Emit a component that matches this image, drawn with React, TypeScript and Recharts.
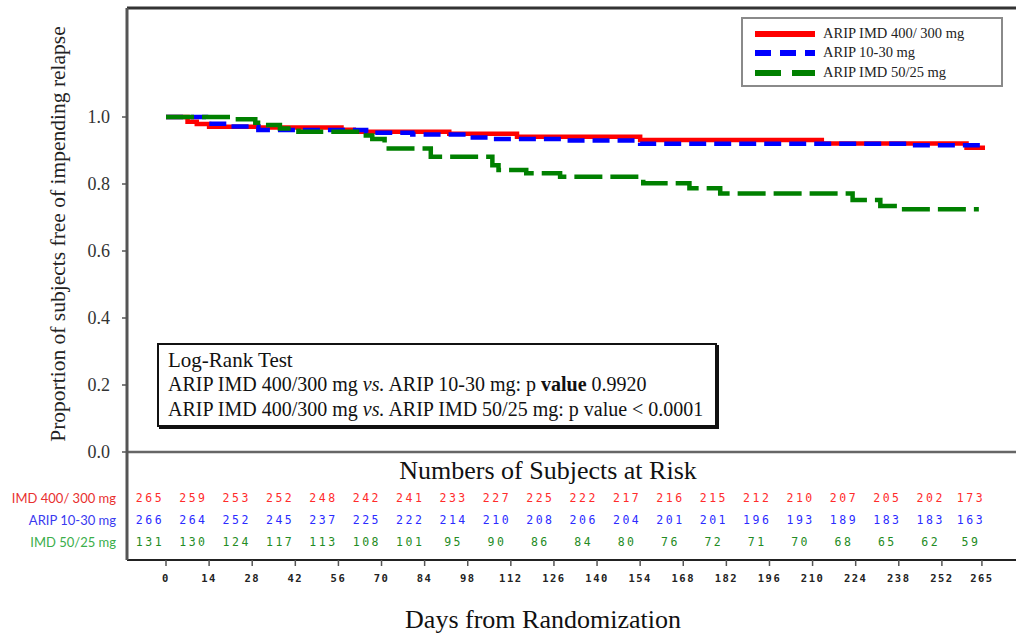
import React from "react";
import { ComposedChart, Legend, Line, ReferenceLine, Scatter, XAxis, YAxis } from "recharts";

// x axis ticks (days) and the matching at-risk columns
const DAY_TICKS = [0, 14, 28, 42, 56, 70, 84, 98, 112, 126, 140, 154, 168, 182, 196, 210, 224, 238, 252, 265];
const Y_TICKS = [0, 0.2, 0.4, 0.6, 0.8, 1.0];

// Kaplan-Meier step points (day where the step starts, survival)
const IMD400_DAYS = [0, 7, 10, 14, 30, 57, 61, 92, 114, 154, 213, 260, 267];
const IMD400_SURV = [1.0, 0.986, 0.979, 0.971, 0.969, 0.962, 0.956, 0.95, 0.941, 0.931, 0.921, 0.908, 0.908];

const ARIP1030_DAYS = [0, 13, 22, 30, 65, 80, 98, 105, 130, 154, 242, 267];
const ARIP1030_SURV = [1.0, 0.98, 0.972, 0.961, 0.953, 0.948, 0.939, 0.934, 0.93, 0.92, 0.916, 0.916];

const IMD5025_DAYS = [0, 21, 29, 32, 37, 43, 63, 67, 71, 86, 106, 108, 117, 128, 155, 170, 180, 223, 232, 238, 264];
const IMD5025_SURV = [1.0, 0.993, 0.983, 0.976, 0.966, 0.956, 0.945, 0.934, 0.906, 0.881, 0.856, 0.842, 0.832, 0.822, 0.802, 0.787, 0.772, 0.752, 0.734, 0.725, 0.725];

// numbers of subjects at risk per tick
const RISK_IMD400 = [265, 259, 253, 252, 248, 242, 241, 233, 227, 225, 222, 217, 216, 215, 212, 210, 207, 205, 202, 173];
const RISK_ARIP1030 = [266, 264, 252, 245, 237, 225, 222, 214, 210, 208, 206, 204, 201, 201, 196, 193, 189, 183, 183, 163];
const RISK_IMD5025 = [131, 130, 124, 117, 113, 108, 101, 95, 90, 86, 84, 80, 76, 72, 71, 70, 68, 65, 62, 59];

const SERIES = [
  {
    key: "imd400",
    name: "ARIP IMD 400/ 300 mg",
    rowLabel: "IMD 400/ 300 mg",
    color: "#ff0000",
    dash: undefined as string | undefined,
    legendDash: undefined as string | undefined,
    riskColor: "#ff2b2b",
    labelColor: "#e8302f",
    days: IMD400_DAYS,
    surv: IMD400_SURV,
    risk: RISK_IMD400
  },
  {
    key: "arip1030",
    name: "ARIP 10-30 mg",
    rowLabel: "ARIP 10-30 mg",
    color: "#0000ff",
    dash: "17 8",
    legendDash: "16 9",
    riskColor: "#2b2bff",
    labelColor: "#3a3aef",
    days: ARIP1030_DAYS,
    surv: ARIP1030_SURV,
    risk: RISK_ARIP1030
  },
  {
    key: "imd5025",
    name: "ARIP IMD 50/25 mg",
    rowLabel: "IMD 50/25 mg",
    color: "#008000",
    dash: "28 8",
    legendDash: "26 11",
    riskColor: "#238b23",
    labelColor: "#3aae4a",
    days: IMD5025_DAYS,
    surv: IMD5025_SURV,
    risk: RISK_IMD5025
  }
];

const Y_MIN = -0.3224;
const Y_MAX = 1.3254;

const curveData = (days: number[], surv: number[]) => days.map((day, i) => ({ day, surv: surv[i] }));

const riskPoints = SERIES.flatMap((s, row) =>
  s.risk.map((n, i) => ({ day: DAY_TICKS[i], row, n, color: s.riskColor, first: i === 0, label: s.rowLabel, labelColor: s.labelColor }))
);

const SERIF = "'Liberation Serif', 'Times New Roman', serif";
const MONO = "'DejaVu Sans Mono', monospace";

function RiskCell(props: any) {
  const { cx, cy, payload } = props;
  return (
    <g>
      {payload.first && (
        <text x={cx - 34} y={cy} textAnchor="end" dominantBaseline="central" fontFamily="Lato, sans-serif" fontSize={13} fill={payload.labelColor}>
          {payload.label}
        </text>
      )}
      <text x={cx} y={cy} textAnchor="middle" dominantBaseline="central" fontFamily={MONO} fontSize={11.5} letterSpacing={2.5} fill={payload.color}>
        {payload.n}
      </text>
    </g>
  );
}

function LegendBox() {
  return (
    <div
      style={{
        width: 262,
        height: 70,
        border: "2px solid #8a8a8a",
        background: "#fff",
        boxSizing: "border-box",
        padding: "5px 0 0 10px"
      }}
    >
      {SERIES.map((s, i) => (
        <div key={s.key} style={{ display: "flex", alignItems: "center", height: i === 2 ? 21 : 19 }}>
          <svg width={64} height={8} style={{ marginRight: 6 }}>
            <line x1={2} y1={4} x2={62} y2={4} stroke={s.color} strokeWidth={6} strokeDasharray={s.legendDash} />
          </svg>
          <span style={{ fontFamily: SERIF, fontSize: 14.5, color: "#222" }}>{s.name}</span>
        </div>
      ))}
    </div>
  );
}

export default function App() {
  return (
    <div style={{ position: "absolute", left: 0, top: 0, width: 1016, height: 634, background: "#fff", overflow: "hidden" }}>
      <ComposedChart width={1016} height={634} margin={{ top: 8, right: 0, bottom: 0, left: 67 }}>
        <XAxis
          dataKey="day"
          type="number"
          domain={[0, 266]}
          allowDataOverflow
          ticks={DAY_TICKS}
          interval={0}
          padding={{ left: 39, right: 31 }}
          height={74}
          axisLine={{ stroke: "#222", strokeWidth: 2 }}
          tickLine={{ stroke: "#555", strokeWidth: 1.5 }}
          tickSize={6}
          tickMargin={9}
          tick={{ fontFamily: MONO, fontSize: 10.5, fontWeight: 700, letterSpacing: 1.5, fill: "#222" }}
        />
        <XAxis xAxisId="risk" dataKey="day" type="number" hide domain={[0, 265]} padding={{ left: 23, right: 45 }} />
        <YAxis
          type="number"
          domain={[Y_MIN, Y_MAX]}
          allowDataOverflow
          ticks={Y_TICKS}
          interval={0}
          tickFormatter={(v: number) => v.toFixed(1)}
          width={60}
          axisLine={{ stroke: "#555", strokeWidth: 3 }}
          tickLine={{ stroke: "#555", strokeWidth: 1.5 }}
          tickSize={5}
          tickMargin={12}
          tick={{ fontFamily: SERIF, fontSize: 18, fill: "#333" }}
        />
        <YAxis yAxisId="risk" type="number" hide reversed domain={[-22.27, 2.82]} />
        <ReferenceLine y={Y_MAX} stroke="#333" strokeWidth={3} />
        <ReferenceLine y={0} stroke="#666" strokeWidth={2.5} />
        {SERIES.map((s) => (
          <Line
            key={s.key}
            data={curveData(s.days, s.surv)}
            dataKey="surv"
            name={s.name}
            type="stepAfter"
            stroke={s.color}
            strokeWidth={4.5}
            strokeDasharray={s.dash}
            dot={false}
            activeDot={false}
            isAnimationActive={false}
          />
        ))}
        <Scatter
          xAxisId="risk"
          yAxisId="risk"
          data={riskPoints}
          dataKey="row"
          shape={RiskCell}
          isAnimationActive={false}
          legendType="none"
        />
        <Legend
          layout="horizontal"
          verticalAlign="middle"
          align="center"
          content={() => <LegendBox />}
          wrapperStyle={{ position: "absolute", left: 741, top: 17, width: 262, height: 70 }}
        />
      </ComposedChart>

      <svg width={1016} height={634} style={{ position: "absolute", left: 0, top: 0, pointerEvents: "none" }}>
        <text x={58} y={234} transform="rotate(-90 58 234)" textAnchor="middle" dominantBaseline="central" fontFamily={SERIF} fontSize={21.5} fill="#222">
          Proportion of subjects free of impending relapse
        </text>
        <text x={548} y={479} textAnchor="middle" fontFamily={SERIF} fontSize={26} fill="#111">
          Numbers of Subjects at Risk
        </text>
        <text x={543} y={628} textAnchor="middle" fontFamily={SERIF} fontSize={26} fill="#111">
          Days from Randomization
        </text>
      </svg>

      <div
        style={{
          position: "absolute",
          left: 157,
          top: 343,
          width: 560,
          height: 84,
          border: "2px solid #111",
          boxShadow: "2px 2px 0 #111",
          boxSizing: "border-box",
          background: "#fff",
          padding: "3px 0 0 9px",
          fontFamily: SERIF,
          color: "#111",
          whiteSpace: "nowrap"
        }}
      >
        <div style={{ fontSize: 21, lineHeight: "24px" }}>Log-Rank Test</div>
        <div style={{ fontSize: 20, lineHeight: "25px" }}>
          ARIP IMD 400/300 mg <i>vs.</i> ARIP 10-30 mg: p <b>value</b> 0.9920
        </div>
        <div style={{ fontSize: 20, lineHeight: "25px" }}>
          ARIP IMD 400/300 mg <i>vs.</i> ARIP IMD 50/25 mg: p value &lt; 0.0001
        </div>
      </div>
    </div>
  );
}
